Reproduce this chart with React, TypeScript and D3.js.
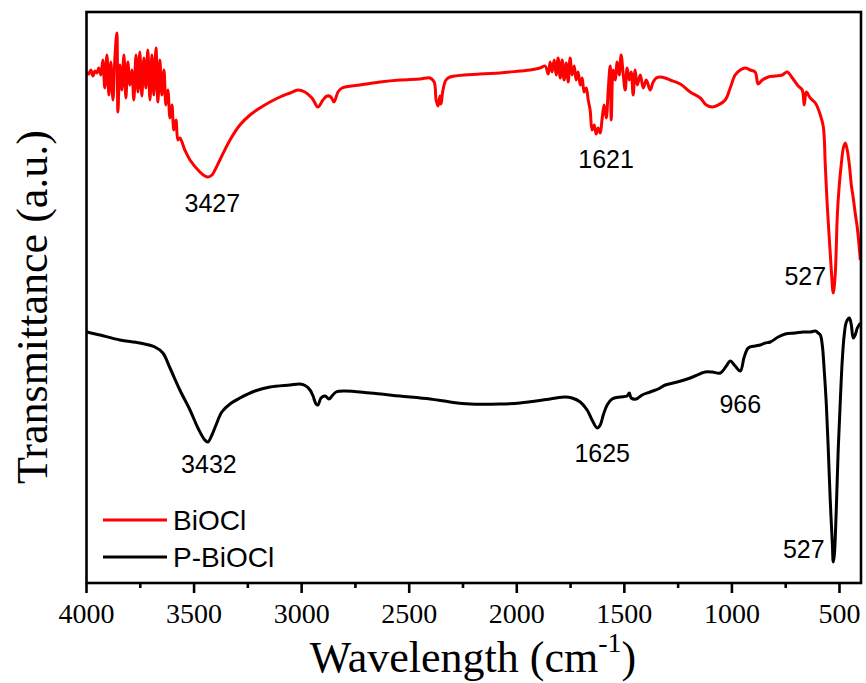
import React from 'react';
import * as d3 from 'd3';

const majorTicks = [4000, 3500, 3000, 2500, 2000, 1500, 1000, 500];
const minorTicks = [3750, 3250, 2750, 2250, 1750, 1250, 750];

const bioclWn = [3998,3989,3980,3970,3961,3952,3943,3933,3924,3915,3905,3896,3887,3877,3868,3859,3854,3845,3836,3826,3817,3808,3798,3789,3780,3770,3761,3752,3743,3733,3724,3715,3705,3696,3687,3677,3668,3659,3650,3640,3631,3622,3612,3603,3594,3584,3575,3566,3543,3519,3473,3450,3436,3417,3403,3380,3333,3287,3240,3194,3147,3101,3054,3017,2985,2952,2924,2901,2882,2864,2850,2831,2812,2729,2636,2543,2450,2403,2384,2375,2366,2357,2352,2343,2329,2310,2171,2078,1985,1938,1892,1868,1854,1845,1836,1826,1817,1808,1798,1789,1780,1770,1761,1752,1743,1733,1724,1715,1705,1696,1687,1677,1668,1659,1650,1640,1631,1622,1612,1603,1594,1584,1575,1566,1561,1552,1543,1533,1524,1515,1505,1496,1487,1477,1468,1459,1450,1440,1426,1412,1398,1380,1366,1352,1333,1310,1287,1240,1194,1147,1119,1091,1064,1031,1008,985,961,938,915,892,878,859,831,798,766,743,719,692,673,664,654,636,612,589,575,566,557,547,538,529,520,510,501,492,482,473,464,454,445,436,427,417,403];
const bioclT = [102.2,101.8,102.6,101.4,102.4,102,103,101.6,104.6,99,105.6,97.6,104.2,96.6,105,110,94.2,103.6,98.6,105.6,97,104.2,99.6,102.6,96.6,105.6,98.2,106.2,97.4,105,99,106.6,96.6,105.6,97.6,107,96.2,104.6,97.6,102.6,95.6,98.6,93,95.6,90.6,92.6,88.6,89,86.6,84.6,82.2,81.4,81.2,81.6,82.6,84.6,88.6,91.6,93.6,95,96.2,97.2,98,98.6,98.2,97,95.2,96.6,97.4,97.2,96.2,98.2,99,99.6,100.2,100.6,100.8,101,100.2,96.6,95.4,97.4,95.8,98.6,100.6,101.2,101.8,102,102.4,102.6,103,103.4,101.8,104.2,102.2,104.6,101.6,105,101,104.6,100.6,104,100.2,105,101.6,103.4,100.6,102.2,99.6,101,98.2,99,96.6,94.6,90.6,91.6,89.8,91,90,93,95.6,93,98.6,103.4,92.6,102.6,100.6,104.2,101.6,105.6,101.6,98.6,103,100.6,102.2,97.6,102.6,99.6,101.6,99,100.6,98.6,100.2,101,101.2,101,100.6,99.8,98.2,97,95.6,95.2,95.6,96.6,99,101.6,102.6,103,102.6,102.2,99.8,100.6,101.2,101.4,101.6,102.2,101,99.4,98.6,95.6,98.2,97,96,93.6,91.2,83.6,75.6,68.6,62.6,58,61.6,73.6,79.6,83.6,87,88,86.6,83.6,79.6,77,74,71,64.6];

const pbioclWn = [3998,3937,3845,3752,3682,3645,3612,3566,3519,3482,3450,3436,3417,3398,3371,3333,3287,3217,3147,3054,3008,2980,2961,2947,2933,2924,2910,2891,2873,2859,2840,2799,2682,2543,2403,2310,2217,2078,1985,1845,1775,1743,1705,1673,1650,1626,1612,1598,1580,1557,1520,1487,1477,1468,1445,1417,1380,1343,1310,1254,1194,1124,1091,1054,1026,1008,985,961,943,924,892,868,845,822,785,752,706,668,636,612,599,589,580,571,561,552,543,533,529,524,515,506,496,487,478,468,454,445,436,427,417,403];
const pbioclT = [50.2,49.6,48.6,48,47.2,46,43,38.6,34.6,31,28.6,28.2,29.6,31.6,34.2,35.8,37,38.4,39.2,39.6,39.8,39.4,38.6,37.4,35.8,35.6,37,37.4,36.8,37.4,38.2,38.4,38,37.4,36.8,36.2,35.8,35.8,36,36.8,37.2,37,36.2,34.6,32.6,31,31.6,33.6,35.6,36.8,37.2,37.4,38,37,36.8,37.6,38.2,38.8,39.6,40.2,41,42.2,42.2,42,43.4,44.4,43.4,42.4,45.2,47,47.4,47.6,48,48.2,49.2,49.8,50,50.2,50.2,50.4,50,49.6,47.6,42.6,35.6,26.6,16.6,7.6,4.2,5.6,14.6,26.6,36.6,44.6,49.6,52.2,53,51.6,49,49.6,51,52];

const peakLabels = ['3427', '1621', '527', '3432', '1625', '966', '527'];
const peakLabelWn = [3415, 1585, 659, 3431, 1603, 961, 666];
const peakLabelT = [74.2, 83, 59.6, 22, 24.2, 34, 5];

const seriesNames = ['BiOCl', 'P-BiOCl'];
const seriesColors = ['#ff0000', '#000000'];

const W = 866, H = 683;
const M = { left: 86.5, right: 861, top: 12, bottom: 583 };

export default function App() {
  const x = d3.scaleLinear().domain([4000, 400]).range([M.left, M.right]);
  const y = d3.scaleLinear().domain([0, 114.2]).range([M.bottom, M.top]);
  const line = d3.line<[number, number]>().x(d => x(d[0])).y(d => y(d[1])).curve(d3.curveCatmullRom.alpha(0.5));
  const redData = bioclWn.map((w, i) => [w, bioclT[i]] as [number, number]);
  const blackData = pbioclWn.map((w, i) => [w, pbioclT[i]] as [number, number]);
  const serif = "'Times New Roman', 'Liberation Serif', serif";
  const sans = "Arial, 'Liberation Sans', sans-serif";
  const legendY = [520, 557];

  return (
    <svg width={W} height={H} style={{ position: 'absolute', left: 0, top: 0, background: '#fff' }}>
      <rect x={0} y={0} width={W} height={H} fill="#fff" />
      <defs>
        <clipPath id="plotclip">
          <rect x={M.left} y={M.top} width={M.right - M.left} height={M.bottom - M.top} />
        </clipPath>
      </defs>
      <g clipPath="url(#plotclip)">
        <path d={line(redData) || ''} fill="none" stroke={seriesColors[0]} strokeWidth={3} strokeLinejoin="round" />
        <path d={line(blackData) || ''} fill="none" stroke={seriesColors[1]} strokeWidth={3} strokeLinejoin="round" />
      </g>
      <rect x={M.left} y={M.top} width={M.right - M.left} height={M.bottom - M.top} fill="none" stroke="#000" strokeWidth={2.6} />
      {majorTicks.map(t => (
        <g key={'M' + t}>
          <line x1={x(t)} x2={x(t)} y1={M.bottom} y2={M.bottom + 10} stroke="#000" strokeWidth={2.6} />
          <text x={x(t)} y={623} textAnchor="middle" fontFamily={serif} fontSize={28}>{t}</text>
        </g>
      ))}
      {minorTicks.map(t => (
        <line key={'m' + t} x1={x(t)} x2={x(t)} y1={M.bottom} y2={M.bottom + 5} stroke="#000" strokeWidth={2.6} />
      ))}
      {peakLabels.map((l, i) => (
        <text key={'p' + i} x={x(peakLabelWn[i])} y={y(peakLabelT[i])} textAnchor="middle" fontFamily={sans} fontSize={25}>{l}</text>
      ))}
      {seriesNames.map((n, i) => (
        <g key={n}>
          <line x1={103} x2={167} y1={legendY[i]} y2={legendY[i]} stroke={seriesColors[i]} strokeWidth={3} />
          <text x={173} y={legendY[i] + 10} fontFamily={sans} fontSize={28}>{n}</text>
        </g>
      ))}
      <text x={473} y={672} textAnchor="middle" fontFamily={serif} fontSize={44}>
        Wavelength (cm<tspan fontSize={28} dy={-20}>-1</tspan><tspan dy={20}>)</tspan>
      </text>
      <text transform={`translate(47, 307) rotate(-90)`} textAnchor="middle" fontFamily={serif} fontSize={44}>Transmittance (a.u.)</text>
    </svg>
  );
}
